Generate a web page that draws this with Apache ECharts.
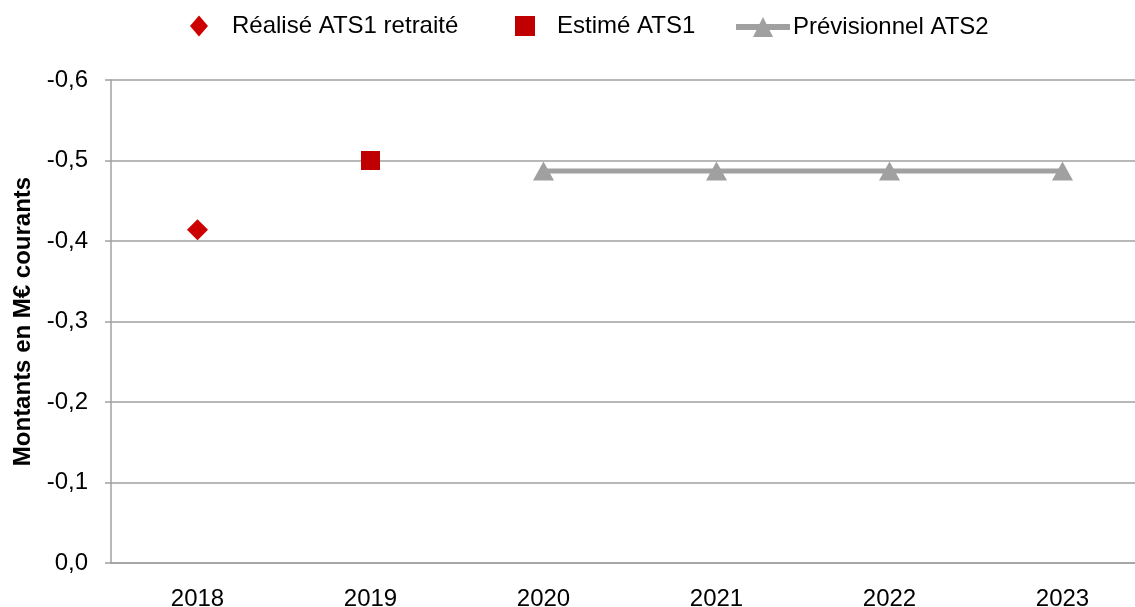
<!DOCTYPE html>
<html>
<head>
<meta charset="utf-8">
<script src="https://cdn.jsdelivr.net/npm/echarts@6/dist/echarts.min.js"></script>
<style>html,body{margin:0;padding:0;background:#fff;}#c{width:1135px;height:607px;}</style>
</head>
<body>
<div id="c"></div>
<script>
const categories = ['2018', '2019', '2020', '2021', '2022', '2023'];
const realise = [-0.414, null, null, null, null, null];
const estime = [null, -0.5, null, null, null, null];
const previsionnel = [null, null, -0.487, -0.487, -0.487, -0.487];
const seriesNames = ['Réalisé ATS1 retraité', 'Estimé ATS1', 'Prévisionnel ATS2'];
const yTitle = 'Montants en M€ courants';

const FONT = 'Liberation Sans';
const GRAY = '#A0A0A0';
const chart = echarts.init(document.getElementById('c'));
const legendText = { fontFamily: FONT, fontSize: 24, color: '#000' };
chart.setOption({
  animation: false,
  textStyle: { fontFamily: FONT },
  legend: [
    { left: 185, top: 9, itemWidth: 18, itemHeight: 21, data: [seriesNames[0]],
      itemStyle: { opacity: 1 },
      textStyle: Object.assign({ padding: [0, 0, 0, 19] }, legendText) },
    { left: 510, top: 9, itemWidth: 20, itemHeight: 20, data: [seriesNames[1]],
      itemStyle: { opacity: 1 },
      textStyle: Object.assign({ padding: [0, 0, 0, 17] }, legendText) },
    { left: 728, top: 10, itemWidth: 54, itemHeight: 25, data: [seriesNames[2]],
      lineStyle: { width: 6 },
      textStyle: Object.assign({ padding: [3, 0, 0, -2] }, legendText) }
  ],
  grid: { left: 111, top: 80, bottom: 44, right: -14, containLabel: false, outerBoundsMode: 'none' },
  xAxis: {
    type: 'category',
    data: categories,
    boundaryGap: true,
    axisLine: { lineStyle: { color: GRAY, width: 1.5 } },
    axisTick: { inside: true, length: 7, lineStyle: { color: GRAY, width: 1.5 } },
    axisLabel: { fontFamily: FONT, fontSize: 24, color: '#000', margin: 24 }
  },
  yAxis: {
    type: 'value',
    min: -0.6, max: 0, interval: 0.1,
    inverse: true,
    name: yTitle,
    nameLocation: 'middle',
    nameGap: 76,
    nameTextStyle: { fontFamily: FONT, fontSize: 24, fontWeight: 'bold', color: '#000' },
    axisLine: { show: true, lineStyle: { color: GRAY, width: 1.5 } },
    axisTick: { show: true, length: 6, lineStyle: { color: GRAY, width: 1.5 } },
    splitLine: { lineStyle: { color: GRAY, width: 1.5 } },
    axisLabel: {
      fontFamily: FONT, fontSize: 24, color: '#000', margin: 23,
      formatter: v => (Math.abs(v) < 1e-9 ? 0 : v).toFixed(1).replace('.', ',')
    }
  },
  series: [
    { name: seriesNames[0], type: 'scatter', data: realise, symbol: 'diamond',
      symbolSize: [21, 21], itemStyle: { color: '#CC0000', opacity: 1 }, z: 5 },
    { name: seriesNames[1], type: 'scatter', data: estime, symbol: 'rect',
      symbolSize: 19, itemStyle: { color: '#C00000', opacity: 1 }, z: 5 },
    { name: seriesNames[2], type: 'line', data: previsionnel, symbol: 'triangle',
      symbolSize: [21, 19], showSymbol: true, connectNulls: false,
      lineStyle: { color: GRAY, width: 5 }, itemStyle: { color: GRAY }, z: 4 }
  ]
});
</script>
</body>
</html>
